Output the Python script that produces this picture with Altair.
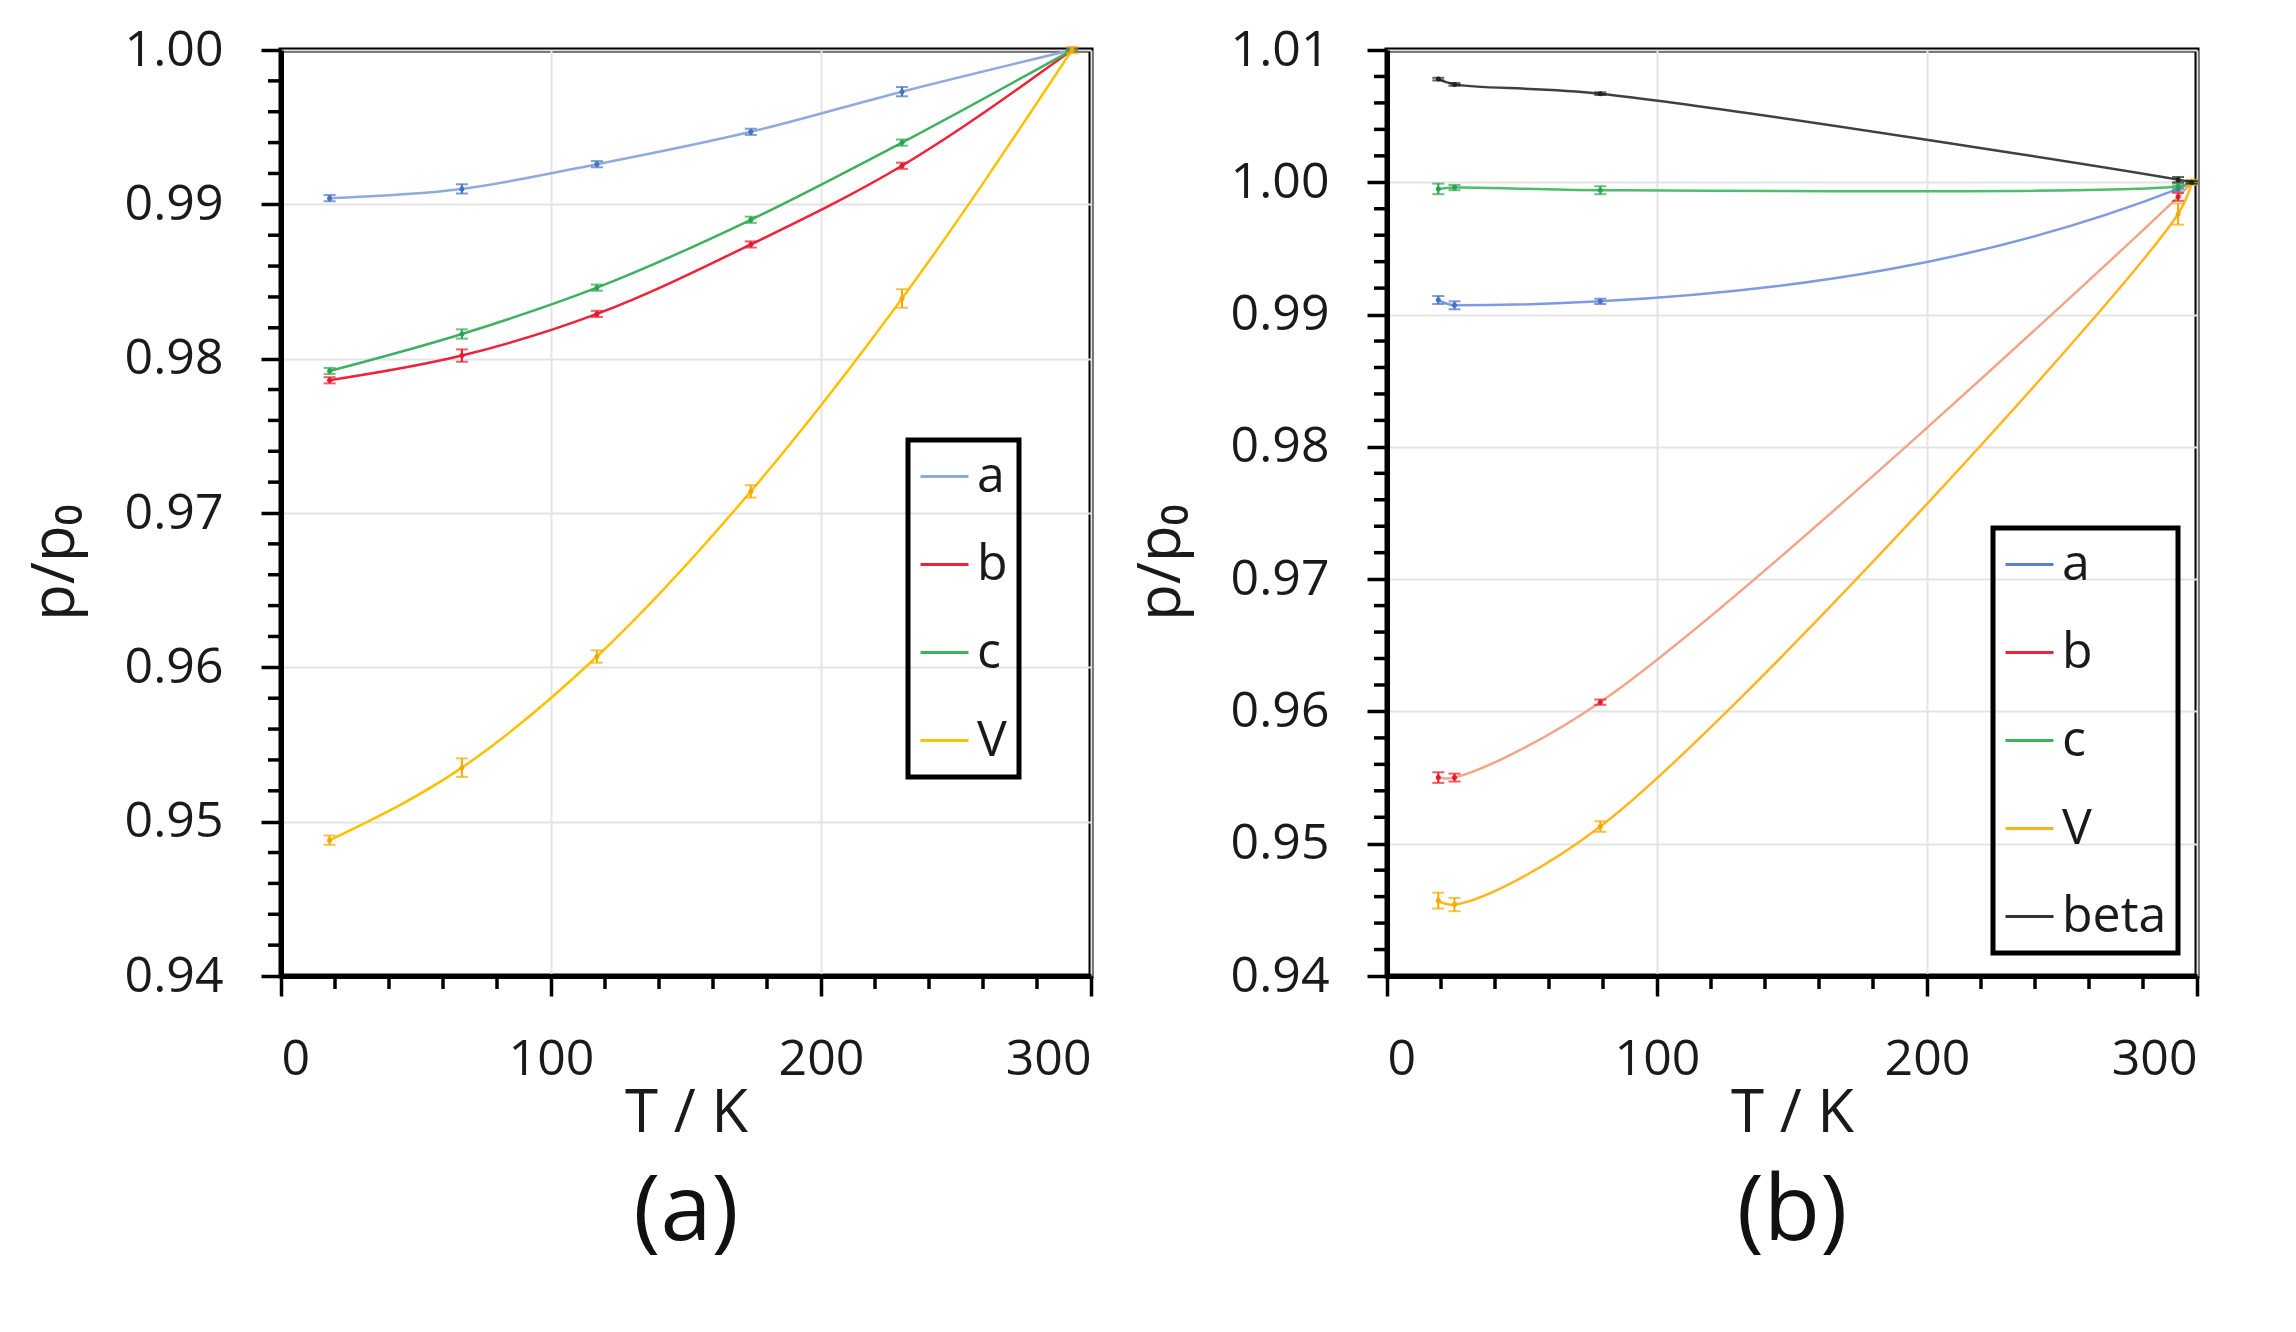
import altair as alt
import pandas as pd

FONT = "Open Sans"

# ---------------- panel (a) data ----------------
NAMES_A = ["a", "b", "c", "V"]
T_A = [18, 67, 117, 174, 230, 293]
VAL_A = {
    "a": [0.9904, 0.9910, 0.9926, 0.9947, 0.9973, 1.0000],
    "b": [0.9786, 0.9802, 0.9829, 0.9874, 0.9925, 1.0000],
    "c": [0.9792, 0.9816, 0.9846, 0.9890, 0.9940, 1.0000],
    "V": [0.9488, 0.9535, 0.9607, 0.9714, 0.9839, 1.0000],
}
ERR_A = {
    "a": [0.0002, 0.0003, 0.0002, 0.0002, 0.0003, 0.0001],
    "b": [0.0002, 0.0004, 0.0002, 0.0002, 0.0002, 0.0001],
    "c": [0.0002, 0.0003, 0.0002, 0.0002, 0.0002, 0.0001],
    "V": [0.0003, 0.0006, 0.0004, 0.0004, 0.0006, 0.0002],
}
INTERP_A = ["monotone", "monotone", "monotone", "monotone"]

# ---------------- panel (b) data ----------------
NAMES_B = ["a", "b", "c", "V", "beta"]
T_B = [19, 25, 79, 293, 298]
VAL_B = {
    "a": [0.9911, 0.9907, 0.9910, 0.9995, 1.0000],
    "b": [0.9550, 0.9550, 0.9607, 0.9989, 1.0000],
    "c": [0.9995, 0.9996, 0.9994, 0.9997, 1.0000],
    "V": [0.9457, 0.9454, 0.9513, 0.9976, 1.0000],
    "beta": [1.0078, 1.0074, 1.0067, 1.0002, 1.0000],
}
ERR_B = {
    "a": [0.0003, 0.0003, 0.0002, 0.0002, 0.0001],
    "b": [0.0004, 0.0003, 0.0002, 0.0003, 0.0001],
    "c": [0.0004, 0.0002, 0.0003, 0.0002, 0.0001],
    "V": [0.0006, 0.0005, 0.0004, 0.0008, 0.0002],
    "beta": [0.0001, 0.0001, 0.0001, 0.0002, 0.0001],
}
INTERP_B = ["monotone", "catmull-rom", "catmull-rom", "catmull-rom",
            "catmull-rom"]

# ---------------- colours ----------------
LEGEND_COL_A = ["#8FAADC", "#EE2238", "#3DB160", "#FFC000"]
LINE_COL_A = ["#8FAADC", "#EE2238", "#3DB160", "#FFC000"]
MARK_COL_A = ["#4472C4", "#E8192C", "#2EA34F", "#F2A900"]

LEGEND_COL_B = ["#5B7FD6", "#EE2238", "#3DB160", "#FFB020", "#333333"]
LINE_COL_B = ["#7C9BE0", "#F3A58A", "#4CBF6B", "#FFB622", "#404040"]
MARK_COL_B = ["#4472C4", "#E8192C", "#2EA34F", "#F2A900", "#222222"]

# ---------------- axis ticks ----------------
X_MAJOR = [0, 100, 200, 300]
X_MINOR = [20, 40, 60, 80, 120, 140, 160, 180, 220, 240, 260, 280]
Y_MAJOR_A = [0.94, 0.95, 0.96, 0.97, 0.98, 0.99, 1.00]
Y_MINOR_A = [0.942, 0.944, 0.946, 0.948, 0.952, 0.954, 0.956, 0.958,
             0.962, 0.964, 0.966, 0.968, 0.972, 0.974, 0.976, 0.978,
             0.982, 0.984, 0.986, 0.988, 0.992, 0.994, 0.996, 0.998]
Y_MAJOR_B = [0.94, 0.95, 0.96, 0.97, 0.98, 0.99, 1.00, 1.01]
Y_MINOR_B = Y_MINOR_A + [1.002, 1.004, 1.006, 1.008]

W, H = 810, 926


def panel(T, vals, errs, names, interps, leg_cols, line_cols, mark_cols,
          ydom, ymajor, yminor, title, legx, legy):
    rows = []
    for name in names:
        for t, v, e in zip(T, vals[name], errs[name]):
            rows.append({"T": t, "p": v, "lo": v - e, "hi": v + e, "s": name})
    df = pd.DataFrame(rows)

    xsc = alt.Scale(domain=[0, 300], nice=False, zero=False)
    ysc = alt.Scale(domain=ydom, nice=False, zero=False)

    xax = alt.Axis(values=X_MAJOR, title="T / K", format="d",
                   tickSize=20, tickWidth=3.5, tickColor="black",
                   domainColor="black", domainWidth=5,
                   labelFontSize=50, labelPadding=38, labelColor="#1a1a1a",
                   labelFont=FONT, titleFont=FONT, titleFontSize=60,
                   titleFontWeight="normal", titleColor="#1a1a1a",
                   titlePadding=0, grid=True, gridColor="#e4e4e4",
                   gridWidth=2)
    yax = alt.Axis(values=ymajor, title="p/p₀", format=".2f",
                   tickSize=20, tickWidth=3.5, tickColor="black",
                   domainColor="black", domainWidth=5,
                   labelFontSize=50, labelPadding=38, labelColor="#1a1a1a",
                   labelFont=FONT, titleFont=FONT, titleFontSize=60,
                   titleFontWeight="normal", titleColor="#1a1a1a",
                   titleAngle=270, titleAlign="center",
                   titleBaseline="middle", titleX=-226, titleY=512,
                   grid=True, gridColor="#e4e4e4", gridWidth=2)

    def X(field):
        return alt.X(field, type="quantitative", scale=xsc, axis=xax)

    def Y(field):
        return alt.Y(field, type="quantitative", scale=ysc, axis=yax)

    legend_layer = alt.Chart(df).mark_line(opacity=0).encode(
        x=X("T"),
        y=Y("p"),
        color=alt.Color(
            "s:N",
            scale=alt.Scale(domain=names, range=leg_cols),
            legend=alt.Legend(
                orient="none", legendX=legx, legendY=legy, title=None,
                symbolType="stroke", symbolSize=2304, symbolStrokeWidth=3,
                symbolOpacity=1, labelFontSize=50, labelFont=FONT,
                labelColor="#1a1a1a", rowPadding=37, padding=11,
                labelOffset=7, strokeColor="black",
            ),
        ),
    )

    layers = [legend_layer]

    minor_x = alt.Chart(pd.DataFrame({"T": X_MINOR})).mark_rule(
        color="black", strokeWidth=3.5).encode(
        x=X("T"), y=alt.value(H), y2=alt.value(H + 13))
    minor_y = alt.Chart(pd.DataFrame({"p": yminor})).mark_rule(
        color="black", strokeWidth=3.5).encode(
        y=Y("p"), x=alt.value(0), x2=alt.value(-13))
    layers += [minor_x, minor_y]

    for name, ip, lc, mc in zip(names, interps, line_cols, mark_cols):
        base = alt.Chart(df[df.s == name])
        line = base.mark_line(interpolate=ip, strokeWidth=2.5,
                              color=lc).encode(x=X("T"), y=Y("p"))
        rule = base.mark_rule(color=mc, strokeWidth=2).encode(
            x=X("T"), y=Y("lo"), y2="hi:Q")
        cap_lo = base.mark_tick(color=mc, orient="horizontal", size=12,
                                thickness=2).encode(x=X("T"), y=Y("lo"))
        cap_hi = base.mark_tick(color=mc, orient="horizontal", size=12,
                                thickness=2).encode(x=X("T"), y=Y("hi"))
        pt = base.mark_point(color=mc, filled=True, size=25,
                             opacity=1).encode(x=X("T"), y=Y("p"))
        layers += [line, rule, cap_lo, cap_hi, pt]

    return alt.layer(*layers).properties(
        width=W, height=H,
        title=alt.TitleParams(text=title, orient="bottom", fontSize=92,
                              font=FONT, fontWeight="normal", color="#111111",
                              frame="group", anchor="middle", offset=24),
    )


pa = panel(T_A, VAL_A, ERR_A, NAMES_A, INTERP_A, LEGEND_COL_A, LINE_COL_A,
           MARK_COL_A, [0.94, 1.00], Y_MAJOR_A, Y_MINOR_A, "(a)", 627, 390)
pb = panel(T_B, VAL_B, ERR_B, NAMES_B, INTERP_B, LEGEND_COL_B, LINE_COL_B,
           MARK_COL_B, [0.94, 1.01], Y_MAJOR_B, Y_MINOR_B, "(b)", 606, 478)

chart = alt.hconcat(pa, pb, spacing=296, bounds="flush").resolve_scale(
    color="independent", x="independent", y="independent"
).resolve_legend(color="independent").properties(
    padding={"left": 14, "top": 14, "right": 5, "bottom": 5},
    background="white",
).configure_view(stroke="black", strokeWidth=5).configure_legend(
    strokeWidth=5
)

chart.save("out.html", embed_options={"renderer": "svg", "actions": False})
